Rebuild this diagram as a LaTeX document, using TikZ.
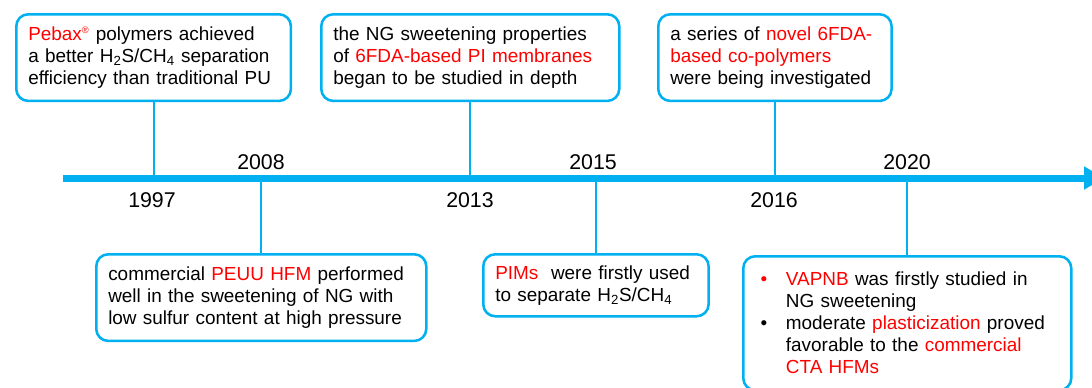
\documentclass[tikz,border=0pt]{standalone}
\usepackage{fontspec}
\setmainfont{Liberation Sans}
\usetikzlibrary{arrows.meta}
\definecolor{tlblue}{HTML}{00B0F0}
\definecolor{hlred}{HTML}{FF0000}
\newcommand{\hl}[1]{\textcolor{hlred}{#1}}
\newcommand{\sub}[1]{\textsubscript{#1}}
\newcommand{\bul}[1]{\hangindent=23pt\hangafter=1\noindent\hspace*{4pt}\makebox[19pt][l]{#1}}

\begin{document}
\begin{tikzpicture}[x=0.75pt,y=-0.75pt,
  event/.style={draw=tlblue,line width=1.9pt,rounded corners=9pt,
    anchor=north west,align=left,inner xsep=9pt,inner ysep=4pt,
    font=\fontsize{14.2}{16.5}\selectfont},
  year/.style={font=\fontsize{16}{19}\selectfont},
  stem/.style={draw=tlblue,line width=1.6pt},
  axis/.style={draw=tlblue,line width=5.25pt,-{Triangle[length=15pt,width=16.5pt]}}]
\useasboundingbox (0,0) rectangle (1092,387);
% time axis
\coordinate (tl-start) at (63,178);
\coordinate (tl-end) at (1104,178);
\draw[axis] (tl-start) -- (tl-end);
% events above the axis
\node[event,text width=188pt,minimum height=65pt] (b1997) at (15,13)
  {\hl{Pebax}\textsuperscript{\hl{\scriptsize ®}} polymers achieved\\
   a better H\sub{2}S/CH\sub{4} separation\\
   efficiency than traditional PU};
\node[event,text width=205.5pt,minimum height=65pt] (b2013) at (320,13)
  {the NG sweetening properties\\
   of \hl{6FDA-based PI membranes}\\
   began to be studied in depth};
\node[event,text width=157pt,minimum height=65pt] (b2016) at (657,13)
  {a series of \hl{novel 6FDA-}\\
   \hl{based co-polymers}\\
   were being investigated};
% events below the axis
\node[event,text width=229.5pt,minimum height=65pt] (b2008) at (95,253)
  {commercial \hl{PEUU HFM} performed\\
   well in the sweetening of NG with\\
   low sulfur content at high pressure};
\node[event,text width=151pt,minimum height=46.5pt] (b2015) at (482,253)
  {\hl{PIMs}\ \ were firstly used\\
   to separate H\sub{2}S/CH\sub{4}};
\node[event,text width=228pt,inner ysep=12pt] (b2020) at (742,255)
  {\bul{\hl{•}}\hl{VAPNB} was firstly studied in\newline
   NG sweetening\par
   \bul{•}moderate \hl{plasticization} proved\newline
   favorable to the \hl{commercial}\newline
   \hl{CTA HFMs}\par\vspace*{14pt}};
% years
\node[year] (y1997) at (152,200) {1997};
\node[year] (y2008) at (261,162) {2008};
\node[year] (y2013) at (470,200) {2013};
\node[year] (y2015) at (593,162) {2015};
\node[year] (y2016) at (774,200) {2016};
\node[year] (y2020) at (907,162) {2020};
% stems
\draw[stem] (b1997.south) -- (b1997.south |- tl-start);
\draw[stem] (b2013.south) -- (b2013.south |- tl-start);
\draw[stem] (b2016.south) -- (b2016.south |- tl-start);
\draw[stem] (b2008.north) -- (b2008.north |- tl-start);
\draw[stem] (b2015.north) -- (b2015.north |- tl-start);
\draw[stem] (b2020.north) -- (b2020.north |- tl-start);
\end{tikzpicture}
\end{document}
